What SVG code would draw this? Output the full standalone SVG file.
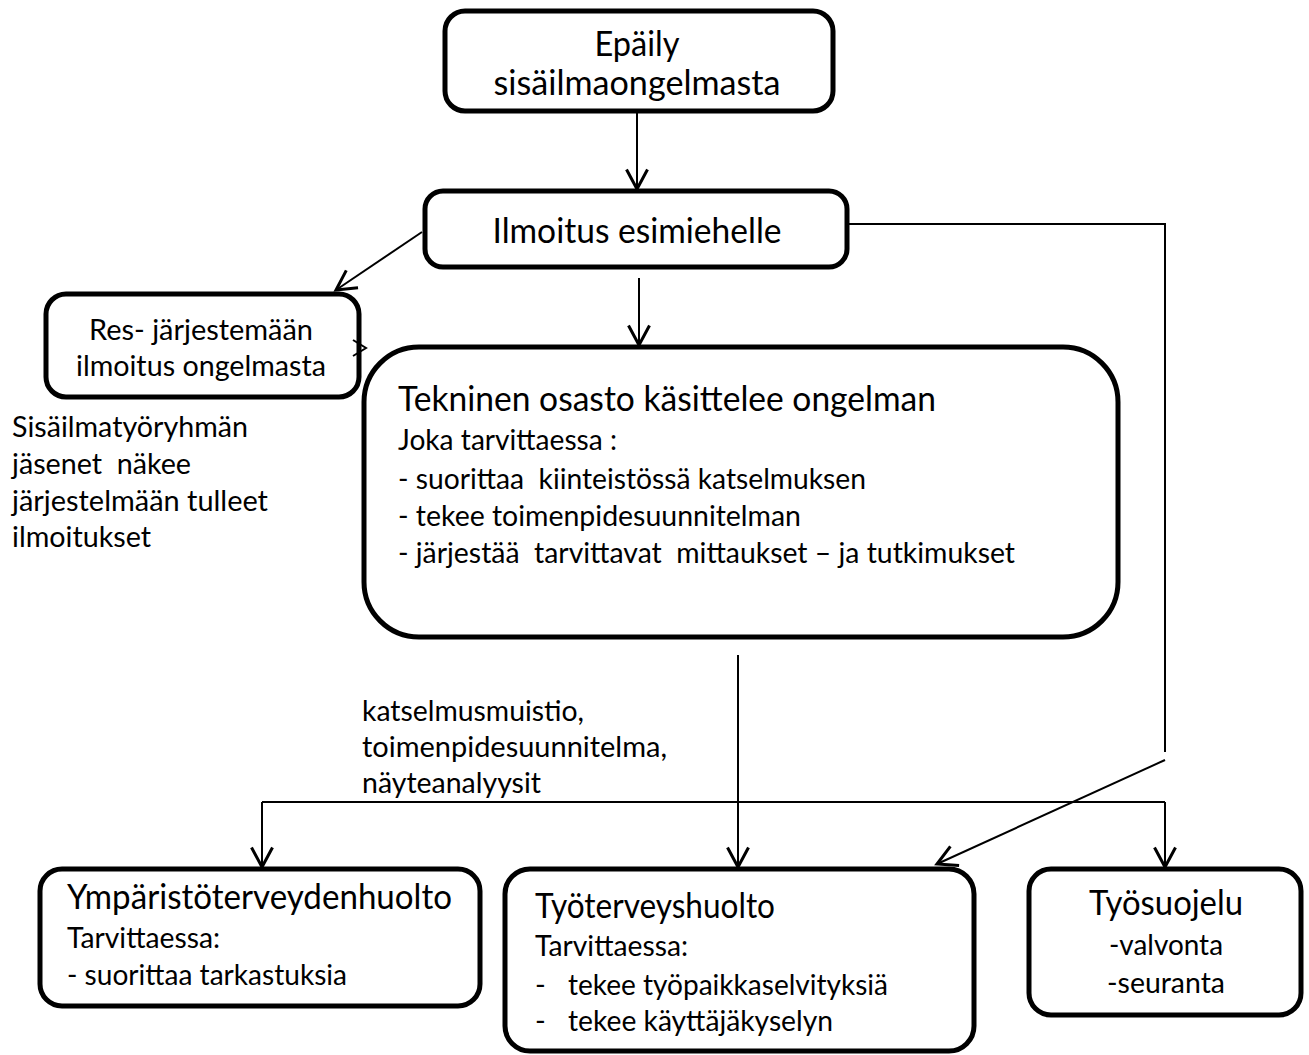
<svg xmlns="http://www.w3.org/2000/svg" width="1309" height="1055" viewBox="0 0 1309 1055">
<defs>
<style>
.box{fill:#fff;stroke:#000;stroke-width:5}
.t{font-family:Lato,"Liberation Sans",sans-serif;fill:#000}
.h{font-size:34px}
.b{font-size:29px}
.c{text-anchor:middle}
.ln{fill:none;stroke:#000;stroke-width:2}
</style>
<marker id="ah" markerUnits="userSpaceOnUse" markerWidth="30" markerHeight="30" viewBox="-16 -10 20 20" refX="0" refY="0" orient="auto">
<path d="M-13,-7 L0,0 L-13,7" fill="none" stroke="#000" stroke-width="2"/>
</marker>
</defs>
<rect width="1309" height="1055" fill="#fff"/>
<g id="connectors">
<line class="ln" x1="637" y1="111" x2="637" y2="189" marker-end="url(#ah)"/>
<line class="ln" x1="422" y1="232" x2="336" y2="290" marker-end="url(#ah)"/>
<line class="ln" x1="639" y1="278" x2="639" y2="345" marker-end="url(#ah)"/>
<line class="ln" x1="738" y1="655" x2="738" y2="867" marker-end="url(#ah)"/>
<path class="ln" d="M262,802 H1165"/>
<line class="ln" x1="262" y1="802" x2="262" y2="867" marker-end="url(#ah)"/>
<line class="ln" x1="1165" y1="802" x2="1165" y2="867" marker-end="url(#ah)"/>
<path class="ln" d="M848,224 H1165 V752"/>
<line class="ln" x1="1165" y1="760" x2="937" y2="864" marker-end="url(#ah)"/>
</g>
<g id="n1">
<rect class="box" x="445" y="11" width="388" height="100" rx="20"/>
<text class="t h c" x="637" y="56" textLength="85" lengthAdjust="spacingAndGlyphs">Epäily</text>
<text class="t h c" x="637" y="95" textLength="287" lengthAdjust="spacingAndGlyphs">sisäilmaongelmasta</text>
</g>
<g id="n2">
<rect class="box" x="425" y="191" width="422" height="76" rx="18"/>
<text class="t h c" x="637" y="243" textLength="289" lengthAdjust="spacingAndGlyphs">Ilmoitus esimiehelle</text>
</g>
<g id="n3">
<rect class="box" x="46" y="294" width="313" height="103" rx="20"/>
<text class="t b c" x="201" y="340" textLength="224" lengthAdjust="spacingAndGlyphs">Res- järjestemään</text>
<text class="t b c" x="201" y="376" textLength="250" lengthAdjust="spacingAndGlyphs">ilmoitus ongelmasta</text>
</g>
<g id="note">
<text class="t b" x="12" y="437" textLength="236" lengthAdjust="spacingAndGlyphs">Sisäilmatyöryhmän</text>
<text class="t b" x="12" y="474" textLength="179" lengthAdjust="spacingAndGlyphs" xml:space="preserve">jäsenet  näkee</text>
<text class="t b" x="12" y="511" textLength="256" lengthAdjust="spacingAndGlyphs">järjestelmään tulleet</text>
<text class="t b" x="12" y="547" textLength="139" lengthAdjust="spacingAndGlyphs">ilmoitukset</text>
</g>
<g id="n4">
<rect class="box" x="364" y="347" width="754" height="290" rx="55"/>
<text class="t h" x="398" y="411" textLength="538" lengthAdjust="spacingAndGlyphs">Tekninen osasto käsittelee ongelman</text>
<text class="t b" x="398" y="450" textLength="219" lengthAdjust="spacingAndGlyphs" xml:space="preserve">Joka tarvittaessa :</text>
<text class="t b" x="398" y="489" textLength="468" lengthAdjust="spacingAndGlyphs" xml:space="preserve">- suorittaa  kiinteistössä katselmuksen</text>
<text class="t b" x="398" y="526" textLength="403" lengthAdjust="spacingAndGlyphs">- tekee toimenpidesuunnitelman</text>
<text class="t b" x="398" y="563" textLength="617" lengthAdjust="spacingAndGlyphs" xml:space="preserve">- järjestää  tarvittavat  mittaukset – ja tutkimukset</text>
</g>
<g id="stray-arrowhead">
<path class="ln" d="M353,340 L366,348 L353,356"/>
</g>
<g id="label">
<text class="t b" x="362" y="721" textLength="222" lengthAdjust="spacingAndGlyphs">katselmusmuistio,</text>
<text class="t b" x="362" y="757" textLength="305" lengthAdjust="spacingAndGlyphs">toimenpidesuunnitelma,</text>
<text class="t b" x="362" y="793" textLength="179" lengthAdjust="spacingAndGlyphs">näyteanalyysit</text>
</g>
<g id="n5">
<rect class="box" x="40" y="869" width="440" height="137" rx="22"/>
<text class="t h" x="67" y="909" textLength="385" lengthAdjust="spacingAndGlyphs">Ympäristöterveydenhuolto</text>
<text class="t b" x="67" y="948" textLength="153" lengthAdjust="spacingAndGlyphs">Tarvittaessa:</text>
<text class="t b" x="67" y="985" textLength="280" lengthAdjust="spacingAndGlyphs">- suorittaa tarkastuksia</text>
</g>
<g id="n6">
<rect class="box" x="505" y="869" width="469" height="182" rx="25"/>
<text class="t h" x="535" y="918" textLength="240" lengthAdjust="spacingAndGlyphs">Työterveyshuolto</text>
<text class="t b" x="535" y="956" textLength="153" lengthAdjust="spacingAndGlyphs">Tarvittaessa:</text>
<text class="t b" x="535" y="995">-</text>
<text class="t b" x="568" y="995" textLength="320" lengthAdjust="spacingAndGlyphs">tekee työpaikkaselvityksiä</text>
<text class="t b" x="535" y="1031">-</text>
<text class="t b" x="568" y="1031" textLength="265" lengthAdjust="spacingAndGlyphs">tekee käyttäjäkyselyn</text>
</g>
<g id="n7">
<rect class="box" x="1029" y="869" width="272" height="146" rx="22"/>
<text class="t h c" x="1166" y="915" textLength="154" lengthAdjust="spacingAndGlyphs">Työsuojelu</text>
<text class="t b c" x="1166" y="955" textLength="114" lengthAdjust="spacingAndGlyphs">-valvonta</text>
<text class="t b c" x="1166" y="993" textLength="118" lengthAdjust="spacingAndGlyphs">-seuranta</text>
</g>
</svg>
